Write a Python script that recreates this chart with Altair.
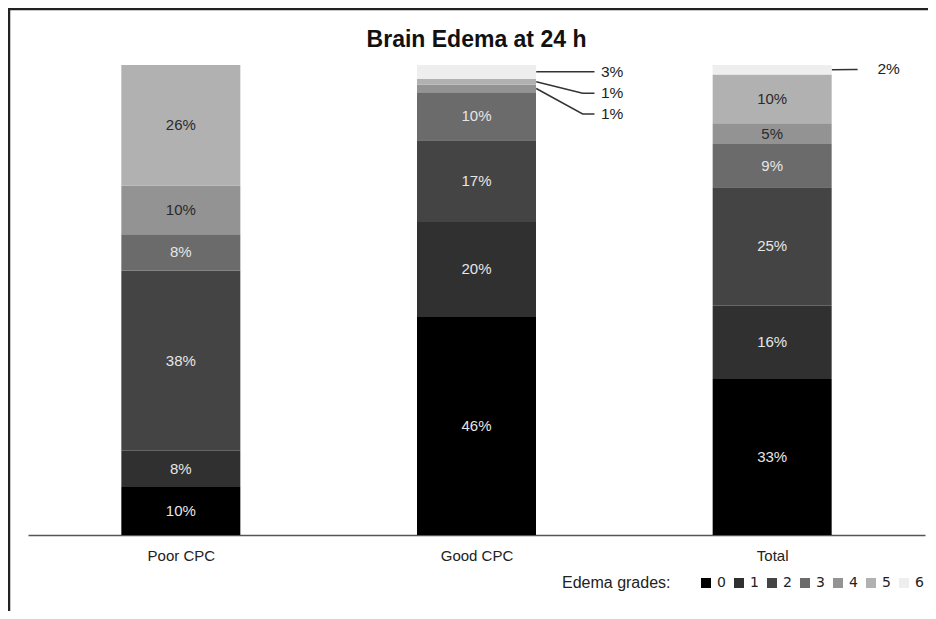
import json
import altair as alt
import pandas as pd

# ---------------- data ----------------
categories = ["Poor CPC", "Good CPC", "Total"]
grades = [0, 1, 2, 3, 4, 5, 6]
poor_cpc = [10.2, 7.7, 38.4, 7.7, 10.3, 25.7, 0.0]
good_cpc = [46.4, 20.2, 17.4, 10.2, 1.6, 1.3, 2.9]
total = [33.2, 15.6, 25.2, 9.2, 4.4, 10.4, 2.0]
poor_labels = ["10%", "8%", "38%", "8%", "10%", "26%", ""]
good_labels = ["46%", "20%", "17%", "10%", "1%", "1%", "3%"]
total_labels = ["33%", "16%", "25%", "9%", "5%", "10%", "2%"]
# segments whose labels are drawn outside the bar with a leader line
outside = [("Good CPC", 6), ("Good CPC", 5), ("Good CPC", 4), ("Total", 6)]

# ---------------- layout / style ----------------
grays = ["#000000", "#303030", "#444444", "#6b6b6b", "#939393", "#b1b1b1", "#eeeeee"]
FONT = "Liberation Sans, Arial"
BAR_PX = 119
STEP_PX = 299
HALF = BAR_PX / 2 / STEP_PX
# callout geometry: label height (y units), elbow dx, line end dx, text dx (x units from bar edge)
callout_layout = {
    ("Good CPC", 6): (98.55, 0.16, 0.20, 0.222),
    ("Good CPC", 5): (94.0, 0.16, 0.20, 0.222),
    ("Good CPC", 4): (89.6, 0.16, 0.20, 0.222),
    ("Total", 6): (99.05, 0.08, 0.09, 0.157),
}

rows = []
for ci, (cat, vals, labs) in enumerate(
    zip(categories, [poor_cpc, good_cpc, total], [poor_labels, good_labels, total_labels])
):
    cum = 0.0
    for g, v, lab in zip(grades, vals, labs):
        rows.append(
            dict(cat=cat, xi=ci, grade=g, value=v, y0=cum, y1=cum + v,
                 mid=cum + v / 2, label=lab, inside=(cat, g) not in outside)
        )
        cum += v
df = pd.DataFrame(rows)

# leader lines and callout texts
line_rows, text_rows = [], []
for k, (cat, g) in enumerate(outside):
    r = df[(df.cat == cat) & (df.grade == g)].iloc[0]
    ly, edx, ldx, tdx = callout_layout[(cat, g)]
    edge = r.xi + HALF
    line_rows += [
        dict(id=k, o=0, x=edge + 0.003, y=r.mid),
        dict(id=k, o=1, x=edge + edx, y=ly),
        dict(id=k, o=2, x=edge + ldx, y=ly),
    ]
    text_rows.append(dict(x=edge + tdx, y=ly, label=r.label))
lines_df = pd.DataFrame(line_rows)
texts_df = pd.DataFrame(text_rows)

xscale = alt.Scale(domain=[-0.5, 2.5], nice=False, zero=False)
yscale = alt.Scale(domain=[0, 100], nice=False, zero=True)
label_expr = json.dumps(categories) + "[datum.value]"

bars = alt.Chart(df).mark_bar(size=BAR_PX).encode(
    x=alt.X(
        "xi:Q", scale=xscale,
        axis=alt.Axis(values=[0, 1, 2], labelExpr=label_expr, title=None, ticks=False,
                      grid=False, domainColor="#555555", domainWidth=1.5,
                      labelFont=FONT, labelFontSize=15, labelColor="#222222",
                      labelPadding=13, labelFlush=False),
    ),
    y=alt.Y("y0:Q", scale=yscale, axis=None),
    y2="y1:Q",
    color=alt.Color(
        "grade:O",
        scale=alt.Scale(domain=grades, range=grays),
        legend=alt.Legend(
            title="Edema grades:", orient="none", legendX=534, legendY=511,
            direction="horizontal", titleOrient="left", titlePadding=28,
            titleFont=FONT, titleFontSize=16, titleFontWeight="normal",
            titleColor="#222222", titleBaseline="middle",
            labelFont="DejaVu Sans", labelFontSize=14, labelColor="#222222",
            labelOffset=4, symbolType="square", symbolSize=100,
            symbolStrokeWidth=0, columnPadding=6, padding=0,
        ),
    ),
    order=alt.Order("grade:O"),
)

in_text = alt.Chart(df).transform_filter(
    "datum.inside && datum.value > 0"
).mark_text(font=FONT, fontSize=15, baseline="middle", align="center").encode(
    x=alt.X("xi:Q", scale=xscale),
    y=alt.Y("mid:Q", scale=yscale),
    text="label:N",
    color=alt.condition(alt.datum.grade >= 4, alt.value("#2a2a2a"), alt.value("#e6e6e6")),
)

leaders = alt.Chart(lines_df).mark_line(color="#333333", strokeWidth=1.5).encode(
    x=alt.X("x:Q", scale=xscale),
    y=alt.Y("y:Q", scale=yscale),
    detail="id:N",
    order="o:Q",
)

out_text = alt.Chart(texts_df).mark_text(
    font=FONT, fontSize=15.5, align="left", baseline="middle", color="#222222"
).encode(
    x=alt.X("x:Q", scale=xscale),
    y=alt.Y("y:Q", scale=yscale),
    text="label:N",
)

frame_df = pd.DataFrame({"a": [0]})
frame_top = alt.Chart(frame_df).mark_rule(color="#222222", strokeWidth=2.5).encode(
    x=alt.value(-20), x2=alt.value(900), y=alt.value(-56)
)
frame_left = alt.Chart(frame_df).mark_rule(color="#222222", strokeWidth=2.5).encode(
    x=alt.value(-19), y=alt.value(-57), y2=alt.value(546)
)

chart = (
    alt.layer(bars, in_text, leaders, out_text, frame_top, frame_left)
    .properties(
        width=897, height=470,
        title=alt.TitleParams("Brain Edema at 24 h", font=FONT, fontSize=23,
                              fontWeight="bold", color="#111111", anchor="middle",
                              frame="group", offset=0, dy=45),
        autosize=alt.AutoSizeParams(type="none"),
        padding={"left": 20, "top": 57, "right": 3, "bottom": 76},
    )
    .configure(background="white", view=alt.ViewConfig(stroke=None))
)

chart.save("out.html", embed_options={"renderer": "svg", "actions": False})
